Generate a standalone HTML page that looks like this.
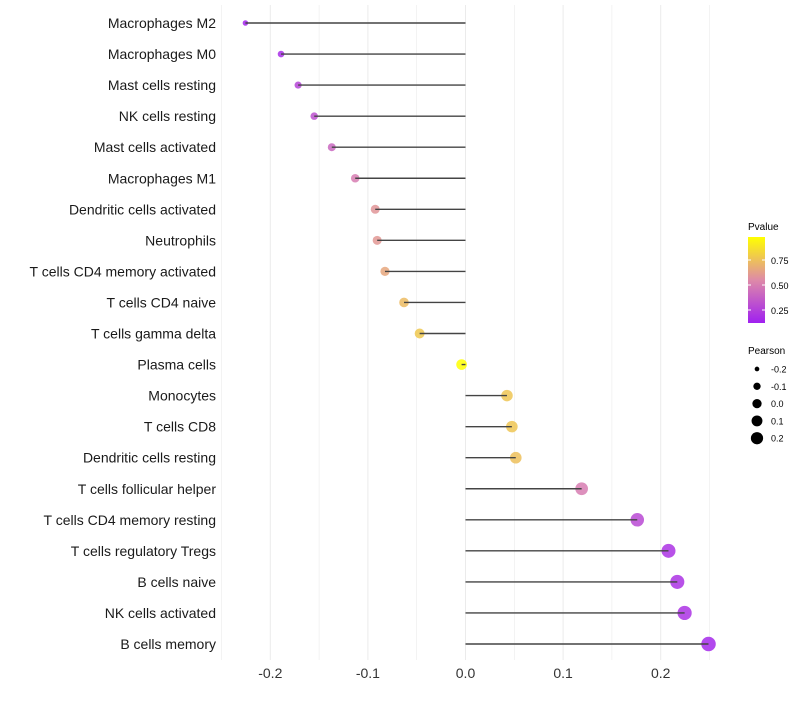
<!DOCTYPE html>
<html><head><meta charset="utf-8"><style>
body{margin:0;background:#fff;font-family:"Liberation Sans",sans-serif;}
svg text{font-family:"Liberation Sans",sans-serif;}
</style></head><body>
<svg id="chart" width="800" height="700" xmlns="http://www.w3.org/2000/svg">
<defs><linearGradient id="pg" x1="0" y1="1" x2="0" y2="0">
<stop offset="0" stop-color="#a020f0"/><stop offset="0.5" stop-color="#de8aa8"/><stop offset="1" stop-color="#ffff00"/></linearGradient></defs>
<g id="grid"></g><g id="marks"></g><g id="labels"></g>
<g>
<text x="748" y="230" font-size="10" fill="#000">Pvalue</text>
<rect x="748" y="237" width="17" height="86" fill="url(#pg)"/>
<line x1="748" y1="260" x2="751" y2="260" stroke="#fff"/><line x1="762" y1="260" x2="765" y2="260" stroke="#fff"/>
<line x1="748" y1="285" x2="751" y2="285" stroke="#fff"/><line x1="762" y1="285" x2="765" y2="285" stroke="#fff"/>
<line x1="748" y1="310" x2="751" y2="310" stroke="#fff"/><line x1="762" y1="310" x2="765" y2="310" stroke="#fff"/>
<text x="771" y="264" font-size="9">0.75</text><text x="771" y="289" font-size="9">0.50</text><text x="771" y="314" font-size="9">0.25</text>
</g>
<g id="sizeleg">
<text x="748" y="354" font-size="10" fill="#000">Pearson</text>
</g>
</svg>
<script>
const cats=["Macrophages M2","Macrophages M0","Mast cells resting","NK cells resting","Mast cells activated","Macrophages M1","Dendritic cells activated","Neutrophils","T cells CD4 memory activated","T cells CD4 naive","T cells gamma delta","Plasma cells","Monocytes","T cells CD8","Dendritic cells resting","T cells follicular helper","T cells CD4 memory resting","T cells regulatory  Tregs ","B cells naive","NK cells activated","B cells memory"];
const pearson=[-0.2255,-0.189,-0.1715,-0.155,-0.137,-0.113,-0.0925,-0.0905,-0.0825,-0.063,-0.047,-0.004,0.0425,0.0475,0.0515,0.119,0.176,0.208,0.217,0.2245,0.249];
const pvalue=[0.06,0.1,0.2,0.25,0.35,0.45,0.55,0.56,0.62,0.7,0.75,0.97,0.74,0.74,0.72,0.45,0.22,0.12,0.12,0.12,0.08];
const ticks=[-0.2,-0.1,0.0,0.1,0.2];
const tickLabels=["-0.2","-0.1","0.0","0.1","0.2"];
const sizeVals=[-0.2,-0.1,0.0,0.1,0.2];
const sizeLabels=["-0.2","-0.1","0.0","0.1","0.2"];
const NS="http://www.w3.org/2000/svg";
const x=v=>465.5+v*976;
const y=i=>23+i*31.05;
const r=v=>Math.sqrt(Math.max(3,11+95*(v+0.189)));
const rl=v=>Math.sqrt(Math.max(3,5.5+80*(v+0.2)));
function lerp(a,b,t){return a.map((c,i)=>Math.round(c+(b[i]-c)*t));}
function col(p){let t=(p-0.04)/(0.97-0.04);t=Math.max(0,Math.min(1,t));
const A=[160,32,240],M=[222,138,168],B=[255,255,0];
const c=t<0.5?lerp(A,M,t*2):lerp(M,B,(t-0.5)*2);return `rgb(${c})`;}
function mk(tag,at,parent){const e=document.createElementNS(NS,tag);for(const k in at)e.setAttribute(k,at[k]);parent.appendChild(e);return e;}
const grid=document.getElementById('grid'),marks=document.getElementById('marks'),labels=document.getElementById('labels');
for(let v=-0.25;v<=0.251;v+=0.05){
 const g=mk('line',{x1:x(v),x2:x(v),y1:5,y2:660,stroke:'#ebebeb','stroke-width':Math.abs(Math.round(v*20))%2==0?1:0.6},grid);
 
 
}
ticks.forEach((t,i)=>{const e=mk('text',{x:x(t),y:678,'font-size':14,'text-anchor':'middle',fill:'#333'},labels);e.textContent=tickLabels[i];
 
 });
cats.forEach((c,i)=>{
 const l=mk('text',{x:216,y:y(i)+5,'font-size':14,'text-anchor':'end',fill:'#1a1a1a'},labels);l.textContent=c;
 
 
 const d=mk('circle',{cx:x(pearson[i]),cy:y(i),r:r(pearson[i]),fill:col(pvalue[i]),'fill-opacity':0.85},marks);
 
 
 const s=mk('line',{x1:x(0),x2:x(pearson[i]),y1:y(i),y2:y(i),stroke:'#444','stroke-width':1.4},marks);
 
 
});
const sl=document.getElementById('sizeleg');
sizeVals.forEach((v,i)=>{const yy=369+i*17.3;
 const c=mk('circle',{cx:757,cy:yy,r:rl(v),fill:'#000'},sl);
 
 
 const t=mk('text',{x:771,y:yy+3.5,'font-size':9},sl);t.textContent=sizeLabels[i];
 
 });
</script>
</body></html>
